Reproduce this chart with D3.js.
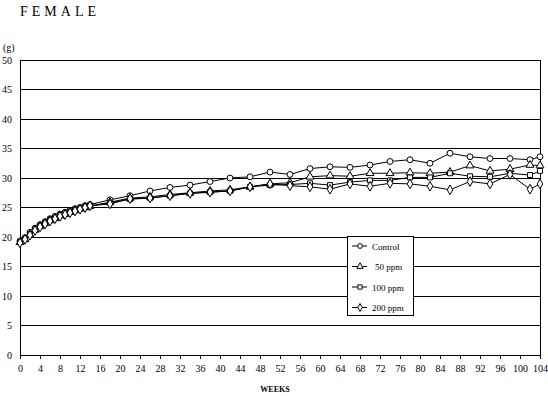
<!DOCTYPE html>
<html>
<head>
<meta charset="utf-8">
<script src="https://cdn.jsdelivr.net/npm/d3@7"></script>
<style>
body { margin: 0; background: #fff; }
text { font-family: "Liberation Serif", "DejaVu Serif", serif; fill: #000; }
</style>
</head>
<body>
<div id="chart-area"></div>
<script>
// data
var weeks = [0,1,2,3,4,5,6,7,8,9,10,11,12,13,14,18,22,26,30,34,38,42,46,50,54,58,62,66,70,74,78,82,86,90,94,98,102,104];

var control = [19.3,19.9,20.8,21.5,22.1,22.6,23.1,23.5,23.9,24.2,24.5,24.8,25.0,25.3,25.5,
    26.3,27.0,27.8,28.4,28.8,29.4,30.0,30.2,31.0,30.6,31.6,31.9,31.8,32.2,32.8,33.1,32.5,34.2,33.6,33.3,33.3,33.1,33.6];
var ppm50 = [19.1,19.6,20.4,21.2,21.8,22.3,22.8,23.2,23.6,23.9,24.2,24.5,24.8,25.0,25.2,
    25.9,26.6,26.8,27.2,27.5,27.8,28.0,28.5,29.0,29.2,30.2,30.4,30.3,30.8,30.8,30.9,30.8,31.0,32.1,31.2,31.5,32.2,32.1];
var ppm100 = [19.2,19.7,20.5,21.3,21.9,22.4,22.9,23.3,23.7,24.0,24.3,24.6,24.8,25.1,25.3,
    25.8,26.4,26.6,27.0,27.4,27.6,27.8,28.5,28.8,28.9,29.1,28.8,29.3,29.6,29.6,30.1,30.1,30.8,30.3,30.2,30.8,30.5,31.2];
var ppm200 = [19.0,19.6,20.3,21.1,21.7,22.2,22.7,23.1,23.5,23.8,24.1,24.4,24.7,25.0,25.3,
    25.6,26.5,26.6,27.0,27.4,27.6,27.8,28.5,29.0,28.7,28.5,28.1,29.0,28.6,29.1,29.0,28.6,28.0,29.4,29.0,30.6,28.1,29.0];

var seriesNames = ["Control", "50 ppm", "100 ppm", "200 ppm"];
var seriesValues = [control, ppm50, ppm100, ppm200];
var seriesShapes = [d3.symbolCircle, d3.symbolTriangle, d3.symbolSquare, d3.symbolDiamond];

var xTicks = d3.range(0, 105, 4);
var yTicks = d3.range(0, 51, 5);

var margin = {top: 60, right: 8, bottom: 41, left: 20};
var width = 548 - margin.left - margin.right,
    height = 396 - margin.top - margin.bottom;

var svg = d3.select("#chart-area").append("svg")
    .attr("width", 548)
    .attr("height", 396);

svg.append("text")
    .attr("x", 20)
    .attr("y", 16)
    .style("font-size", "14px")
    .style("letter-spacing", "4px")
    .text("FEMALE");

var g = svg.append("g")
    .attr("transform", "translate(" + margin.left + "," + margin.top + ")");

//SCALES
var x = d3.scaleLinear().domain([0, 104]).range([0, width]);
var y = d3.scaleLinear().domain([0, 50]).range([height, 0]);

// grid
g.selectAll(".grid")
    .data(yTicks.filter(function(d) { return d > 0; }))
    .enter().append("line")
    .attr("class", "grid")
    .attr("x1", 0).attr("x2", width)
    .attr("y1", function(d) { return y(d); })
    .attr("y2", function(d) { return y(d); })
    .attr("stroke", "#000")
    .attr("shape-rendering", "crispEdges");

g.append("line")
    .attr("x1", width).attr("x2", width)
    .attr("y1", 0).attr("y2", height)
    .attr("stroke", "#000")
    .attr("shape-rendering", "crispEdges");

//AXES
var xAxis = d3.axisBottom(x).tickValues(xTicks).tickSize(4).tickPadding(6);
var yAxis = d3.axisLeft(y).tickValues(yTicks).tickSize(0).tickPadding(8);

var gx = g.append("g")
    .attr("transform", "translate(0," + height + ")")
    .call(xAxis);
var gy = g.append("g").call(yAxis);

[gx, gy].forEach(function(a) {
    a.select(".domain").attr("stroke", "#000").attr("shape-rendering", "crispEdges");
    a.selectAll("line").attr("stroke", "#000");
    a.selectAll("text")
        .style("font-family", "'Liberation Serif', serif")
        .style("font-size", "10px")
        .attr("fill", "#000");
});

svg.append("text")
    .attr("x", 3)
    .attr("y", 51)
    .style("font-size", "10px")
    .text("(g)");

svg.append("text")
    .attr("x", margin.left + x(52) - 5)
    .attr("y", 392)
    .style("font-size", "8px")
    .style("font-weight", "bold")
    .attr("text-anchor", "middle")
    .text("WEEKS");

//LINES
var drawLine = d3.line()
    .x(function(d) { return x(d[0]); })
    .y(function(d) { return y(d[1]); });

seriesValues.forEach(function(vals, i) {
    var pts = weeks.map(function(w, j) { return [w, vals[j]]; });
    g.append("path")
        .attr("d", drawLine(pts))
        .attr("fill", "none")
        .attr("stroke", "#000")
        .attr("stroke-width", 1);
});

seriesValues.forEach(function(vals, i) {
    var pts = weeks.map(function(w, j) { return [w, vals[j]]; });
    g.selectAll(".m" + i)
        .data(pts)
        .enter().append("path")
        .attr("class", "m" + i)
        .attr("transform", function(d) { return "translate(" + x(d[0]) + "," + y(d[1]) + ")"; })
        .attr("d", d3.symbol().type(seriesShapes[i]).size(i === 2 ? 24 : 27))
        .attr("fill", "#fff")
        .attr("stroke", "#000")
        .attr("stroke-width", 1);
});

//LEGEND
var legend = svg.append("g").attr("transform", "translate(347,236)");
legend.append("rect")
    .attr("width", 66).attr("height", 79)
    .attr("fill", "#fff")
    .attr("stroke", "#000")
    .attr("shape-rendering", "crispEdges");

var items = legend.selectAll(".item")
    .data(seriesNames)
    .enter().append("g")
    .attr("transform", function(d, i) { return "translate(0," + (10 + i * 20.5) + ")"; });

items.append("line")
    .attr("x1", 5).attr("x2", 20)
    .attr("stroke", "#000");

items.append("path")
    .attr("transform", "translate(13,0)")
    .attr("d", function(d, i) { return d3.symbol().type(seriesShapes[i]).size(18)(); })
    .attr("fill", "#fff")
    .attr("stroke", "#000");

items.append("text")
    .attr("x", function(d, i) { return i === 1 ? 28 : 25; })
    .attr("y", 3.5)
    .style("font-size", "9px")
    .text(function(d) { return d; });
</script>
</body>
</html>
